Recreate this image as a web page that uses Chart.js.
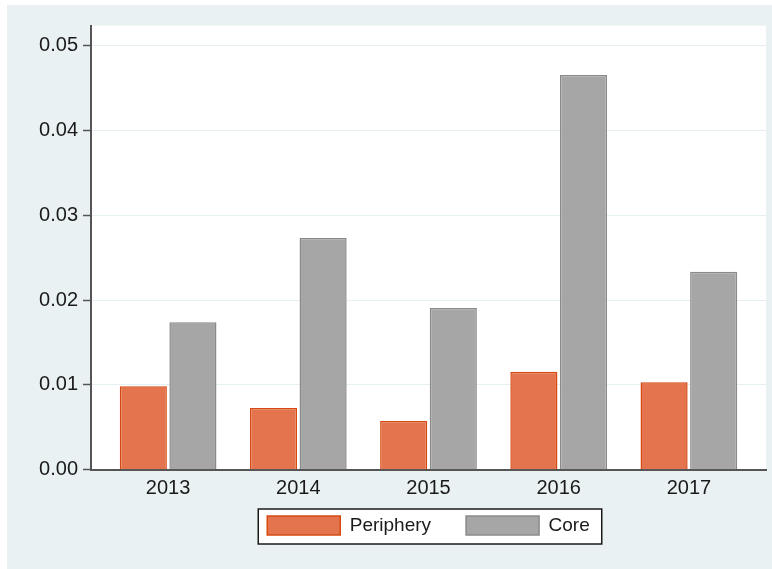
<!DOCTYPE html>
<html>
<head>
<meta charset="utf-8">
<script src="https://cdn.jsdelivr.net/npm/chart.js@4/dist/chart.umd.min.js"></script>
<style>
  html, body { margin: 0; padding: 0; background: #ffffff; }
  #wrap { width: 772px; height: 569px; }
</style>
</head>
<body>
<div id="wrap"><canvas id="c" width="772" height="569"></canvas></div>
<script>
// ---- data ----
const years = ['2013', '2014', '2015', '2016', '2017'];
const periphery = [0.00983, 0.00728, 0.00574, 0.01156, 0.01031];
const core = [0.01738, 0.02732, 0.01907, 0.04654, 0.02335];
const yTicks = [0.00, 0.01, 0.02, 0.03, 0.04, 0.05];
const seriesNames = ['Periphery', 'Core'];

const FONT = '"Liberation Sans", Arial, sans-serif';
const PANEL = '#EAF1F3';
const LEG_PAD = 35;
const LEG_ITEM_TOP = 516;

const panelPlugin = {
  id: 'panel',
  afterLayout(chart) {
    const lg = chart.legend;
    if (lg) {
      const h = lg.height;
      lg.top = LEG_ITEM_TOP - LEG_PAD;
      lg.bottom = lg.top + h;
    }
  },
  beforeDraw(chart) {
    const ctx = chart.ctx;
    const a = chart.chartArea;
    ctx.save();
    ctx.fillStyle = '#ffffff';
    ctx.fillRect(0, 0, chart.width, chart.height);
    ctx.fillStyle = PANEL;
    ctx.fillRect(7, 5, chart.width - 7, chart.height - 5);
    ctx.fillStyle = '#ffffff';
    ctx.fillRect(a.left, a.top, a.right - a.left, a.bottom - a.top);
    // legend frame
    const lg = chart.legend;
    if (lg && lg.lineWidths) {
      const lw = lg.lineWidths[0];
      const x0 = (lg.left + LEG_PAD + lg.right - lw) / 2;
      const xr = x0 + lw - LEG_PAD;
      const y = lg.top + LEG_PAD;
      const L = x0 - 9, R = xr + 12, T = y - 7, B = y + 19 + 9;
      ctx.fillStyle = '#ffffff';
      ctx.fillRect(L, T, R - L, B - T);
      ctx.strokeStyle = '#1a1a1a';
      ctx.lineWidth = 1.5;
      ctx.strokeRect(L, T, R - L, B - T);
    }
    ctx.restore();
  }
};

const toPoints = arr => years.map((y, i) => ({ x: Number(y), y: arr[i] }));

new Chart(document.getElementById('c'), {
  type: 'bar',
  data: {
    datasets: [
      {
        label: seriesNames[0],
        data: toPoints(periphery),
        backgroundColor: '#E3744E',
        borderColor: '#D64A12',
        borderWidth: 1.5,
        borderSkipped: 'start',
        categoryPercentage: 0.762,
        barPercentage: 0.95
      },
      {
        label: seriesNames[1],
        data: toPoints(core),
        backgroundColor: '#A6A6A6',
        borderColor: '#8A8A8A',
        borderWidth: 1.5,
        borderSkipped: 'start',
        categoryPercentage: 0.762,
        barPercentage: 0.95
      }
    ]
  },
  options: {
    responsive: false,
    animation: false,
    devicePixelRatio: 1,
    layout: { padding: { left: 0, right: 6, top: 25.7, bottom: 5.3 } },
    plugins: {
      tooltip: { enabled: false },
      legend: {
        position: 'bottom',
        fullSize: false,
        labels: {
          boxWidth: 73,
          boxHeight: 19,
          padding: LEG_PAD,
          color: '#1a1a1a',
          font: { family: FONT, size: 19 }
        }
      }
    },
    scales: {
      x: {
        type: 'linear',
        min: 2012.4077,
        max: 2017.5923,
        offset: false,
        afterBuildTicks: s => { s.ticks = years.map(y => ({ value: Number(y) })); },
        afterFit: s => { s.height = 30; },
        grid: { display: false, drawTicks: false, offset: false },
        border: { display: true, color: '#555555', width: 2 },
        ticks: {
          padding: 7,
          color: '#1a1a1a',
          font: { family: FONT, size: 20 },
          maxRotation: 0,
          autoSkip: false,
          callback: v => String(v)
        }
      },
      y: {
        min: 0,
        max: 0.05236,
        afterBuildTicks: s => { s.ticks = yTicks.map(v => ({ value: v })); },
        afterFit: s => { s.width = 91; },
        grid: {
          color: '#E6EFF1',
          lineWidth: 1,
          drawTicks: true,
          tickLength: 8,
          tickColor: '#555555',
          tickWidth: 1.5
        },
        border: { display: true, color: '#555555', width: 2 },
        ticks: {
          padding: 5,
          color: '#1a1a1a',
          font: { family: FONT, size: 20 },
          callback: v => Number(v).toFixed(2)
        }
      }
    }
  },
  plugins: [panelPlugin]
});
</script>
</body>
</html>
